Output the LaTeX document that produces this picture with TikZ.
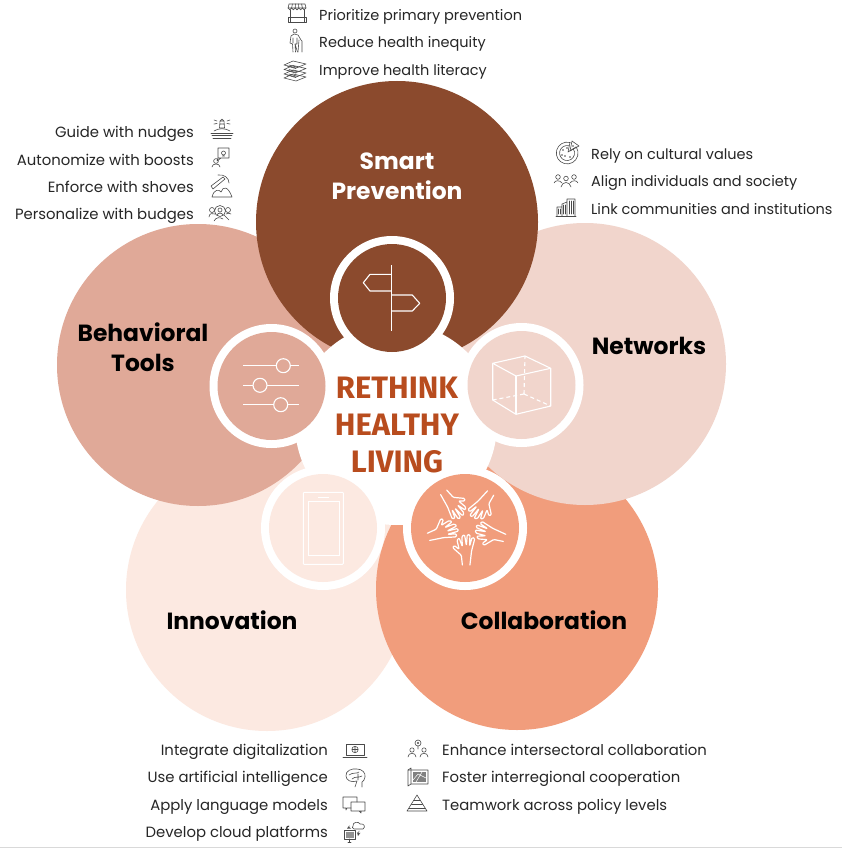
\documentclass[tikz,border=0pt]{standalone}
\usepackage{fontspec}
\setmainfont{Poppins}
\newfontfamily\headfont{Fira Sans}
\usetikzlibrary{calc}
\definecolor{cSmart}{HTML}{8B4A2D}
\definecolor{cBeh}{HTML}{E0A998}
\definecolor{cNet}{HTML}{F1D5CC}
\definecolor{cCol}{HTML}{F19D7C}
\definecolor{cInn}{HTML}{FCE9E1}
\definecolor{cHead}{HTML}{B84C1E}
\definecolor{cIcon}{HTML}{4A4A4A}
\definecolor{cItem}{HTML}{262626}
\tikzset{
  x=1pt,y=-1pt,
  big/.style={circle,inner sep=0pt,minimum size=282pt},
  ring/.style={circle,fill=white,inner sep=0pt,minimum size=124pt},
  disc/.style={circle,inner sep=0pt,minimum size=108pt},
  item/.style={font=\fontsize{14.5}{14.5}\selectfont,text=cItem,inner sep=0pt},
  itemW/.style={font=\fontsize{14.85}{14.85}\selectfont,text=cItem,inner sep=0pt},
  itemL/.style={item,anchor=base west},
  itemR/.style={itemW,anchor=base east},
  itemE/.style={itemW,anchor=base west},
  title/.style={font=\fontsize{23.4}{30}\selectfont\bfseries,align=center,inner sep=0pt,text=black},
  head/.style={font=\headfont\fontsize{31}{37}\selectfont\bfseries,align=center,inner sep=0pt,text=cHead},
  ico/.style={draw=cIcon,line width=.6pt,line join=round,line cap=round},
  wl/.style={draw=white,line width=1.1pt,line join=round},
}
\begin{document}
\begin{tikzpicture}
\useasboundingbox (0,0) rectangle (842,848);
\fill[white] (0,0) rectangle (842,848);
\draw[black!15,line width=1pt] (0,847.5) -- (842,847.5);
% big circles
\node[big,fill=cInn] (inn) at (267,590) {};
\node[big,fill=cCol] (col) at (517,589) {};
\node[big,fill=cNet] (net) at (585,364) {};
\node[big,fill=cBeh] (beh) at (198,365) {};
\node[big,fill=cSmart] (sma) at (397,222) {};
\node[circle,fill=white,inner sep=0pt,minimum size=202pt] (hub) at (396,424) {};
% rings and discs
\node[ring] (rSma) at (392,298) {}; \node[disc,fill=cSmart] (dSma) at (392,298) {};
\node[ring] (rBeh) at (271.5,386) {}; \node[disc,fill=cBeh] (dBeh) at (271.5,386) {};
\node[ring] (rNet) at (521.5,385) {}; \node[disc,fill=cNet] (dNet) at (521.5,385) {};
\node[ring] (rCol) at (465,528) {}; \node[disc,fill=cCol] (dCol) at (465,528) {};
\node[ring] (rInn) at (323,528) {}; \node[disc,fill=cInn] (dInn) at (323,528) {};
% sign
\draw[wl] (391.3,265) -- (391.3,330.7);
\draw[wl] (391.3,274.3) -- (370,274.3) -- (363.3,282.7) -- (370,291) -- (391.3,291);
\draw[wl] (391.3,295) -- (412.3,295) -- (419.7,303.3) -- (412.3,311) -- (391.3,311);
% sliders
\foreach \yy/\xx in {365.7/283.3,385.3/260,404.7/280.7}{
  \draw[wl] (243.3,\yy) -- (299.3,\yy);
  \draw[wl,fill=cBeh] (\xx,\yy) circle (7);
}
% cube
\draw[wl] (492.7,363.3) -- (525,356) -- (550.7,368.3) -- (516,376) -- cycle;
\draw[wl] (492.7,363.3) -- (492.7,400) -- (516,414.3) -- (550.7,406) -- (550.7,368.3);
\draw[wl] (516,376) -- (516,414.3);
\draw[wl,dash pattern=on 4pt off 3pt] (524,394) -- (525,356) (524,394) -- (492.7,400) (524,394) -- (550.7,406);
% phone
\draw[white,line width=.9pt,rounded corners=.8pt] (303.3,492.3) rectangle (343.3,564.3);
\draw[white,line width=.9pt] (308.3,501.7) rectangle (339.3,555);
\draw[white,line width=.9pt] (318,497) -- (329,497);
% hands
\foreach \a in {0,72,144,216,288}{
 \begin{scope}[shift={(466.7,525)},rotate=\a,scale=1.08]
  \draw[wl,line width=1.2pt,line cap=round,rounded corners=1pt]
   (-4,37) -- (-5,28) -- (-13,21) -- (-11.5,19) -- (-7,22.5) -- (-9,14) -- (-7,12) -- (-4,20)
   -- (-4.5,10.5) -- (-2,9) -- (-.3,19) -- (.5,9) -- (3,9) -- (2.7,19.5) -- (5,11.5) -- (7.5,12.5) -- (4.5,24) -- (3,37);
 \end{scope}
}
% titles
\node[title,text=white] (tSma) at (397,176) {Smart\\Prevention};
\node[title] (tBeh) at (143,347) {Behavioral\\Tools};
\node[title] (tNet) at (649,346) {Networks};
\node[title] (tInn) at (232,620) {Innovation};
\node[title] (tCol) at (544,620) {Collaboration};
\node[head] (tHub) at (397,425) {RETHINK\\HEALTHY\\LIVING};
% item lists
\node[itemL] (a1) at (319,21) {Prioritize primary prevention};
\node[itemL] (a2) at (319,48) {Reduce health inequity};
\node[itemL] (a3) at (319,76) {Improve health literacy};
\node[itemR] (b1) at (194,138) {Guide with nudges};
\node[itemR] (b2) at (194,165) {Autonomize with boosts};
\node[itemR] (b3) at (194,192) {Enforce with shoves};
\node[itemR] (b4) at (194,219) {Personalize with budges};
\node[itemL] (c1) at (591,159) {Rely on cultural values};
\node[itemL] (c2) at (591,186) {Align individuals and society};
\node[itemL] (c3) at (591,214) {Link communities and institutions};
\node[itemR] (d1) at (328,755) {Integrate digitalization};
\node[itemR] (d2) at (328,782) {Use artificial intelligence};
\node[itemR] (d3) at (328,810) {Apply language models};
\node[itemR] (d4) at (328,837) {Develop cloud platforms};
\node[itemE] (e1) at (442,755) {Enhance intersectoral collaboration};
\node[itemE] (e2) at (442,782) {Foster interregional cooperation};
\node[itemE] (e3) at (442,810) {Teamwork across policy levels};
% icons
\begin{scope}[shift={(297,13)},ico]
 \draw (-9,-5) -- (-8,-9) -- (8,-9) -- (9,-5) (-9,-5) -- (9,-5);
 \foreach \x in {-9,-5.4,-1.8,1.8,5.4}{\draw (\x,-5) .. controls (\x,-2.5) and (\x+3.6,-2.5) .. (\x+3.6,-5);}
 \foreach \x in {-5.4,-1.8,1.8,5.4}{\draw (\x*.85,-9) -- (\x,-5);}
 \draw (-7,-3) -- (-7,9) (7,-3) -- (7,9) (-9,4) -- (9,4) -- (9,9) -- (-9,9) -- cycle;
\end{scope}
\begin{scope}[shift={(296,41)},ico]
 \draw (-1,-10) circle (2);
 \draw (-3,11) -- (-3.5,3) -- (-6,2) -- (-5,-5) -- (-2,-7) -- (2,-6) -- (5,-1) -- (6,0) -- (6,11);
 \draw (-.5,11) -- (-1,3) -- (1.5,11) (1,-3) -- (1,3) -- (-1,3);
 \draw (-3,-3) -- (-3,2) (3,-1) -- (2,11);
\end{scope}
\begin{scope}[shift={(295,70)},ico]
 \foreach \d in {-5,-.5,4,8}{\draw (-11,\d) -- (-2,\d-4) -- (11,\d-1) -- (1,\d+3) -- cycle;}
 \foreach \d in {-5,-.5,4}{\draw (-8,\d+1) -- (1,\d+3.6) (-6,\d) -- (3,\d+2.4);}
\end{scope}
\begin{scope}[shift={(222,130)},ico]
 \draw (-2.5,-2) -- (-2,-9) -- (2,-9) -- (2.5,-2) -- cycle (-2,-6) -- (2,-6) (-2,-9) -- (0,-11) -- (2,-9);
 \draw (-5,-9) -- (-8,-10) (-5,-6.5) -- (-8,-6) (5,-9) -- (8,-10) (5,-6.5) -- (8,-6);
 \draw (-8,1) .. controls (-4,-2) and (4,-2) .. (8,1);
 \draw (-11,3) -- (11,3) (-10,5.5) -- (10,5.5) (-9,8) -- (9,8);
\end{scope}
\begin{scope}[shift={(221,157)},ico]
 \draw (-3,-9) rectangle (8,1) (-3,1) -- (-4,4) -- (0,1);
 \draw (2.5,-4) circle (2) (1.5,-1) -- (3.5,-1);
 \draw (-5,4) circle (2.4);
 \draw (-9,10) .. controls (-9,6) and (-1,6) .. (-1,10);
\end{scope}
\begin{scope}[shift={(221,186)},ico]
 \draw (-10,0) -- (2,-9) -- (4,-7) -- (-8,3) -- cycle;
 \draw (-3,-11) .. controls (3,-12) and (8,-8) .. (8,-3);
 \draw (-9,11) .. controls (-7,3) and (-2,3) .. (0,6) .. controls (2,0) and (7,0) .. (11,11) -- cycle;
\end{scope}
\begin{scope}[shift={(220,213)},ico]
 \draw (0,-2) circle (5.5) (0,-3) circle (2) (-3,2) .. controls (-2,-.5) and (2,-.5) .. (3,2);
 \draw (4,2) -- (9,7);
 \draw (-8,-3) circle (2.5) (8,-3) circle (2.5);
 \draw (-11,4) .. controls (-11,0) and (-7,0) .. (-5,1) (11,1) .. controls (10,0) and (8,0) .. (6,1);
 \draw (-6,8) .. controls (-4,4) and (0,4) .. (3,6);
\end{scope}
\begin{scope}[shift={(567,153)},ico]
 \draw (3,-10.5) arc (-75:-395:10.9);
 \draw (2,-7.2) arc (-75:-395:7.5);
 \draw (3,-10.5) -- (1,-1) -- (9,-6);
 \draw (5,-12) -- (12,-7) -- (3,-2) -- cycle;
 \foreach \p in {(-4,-3),(-2,3),(3,4),(-5,2),(0,-5),(6,-7)}{\fill[cIcon] \p circle (.8);}
\end{scope}
\begin{scope}[shift={(566,182)},ico]
 \draw (-8,-5) circle (2.3) (0,-3.5) circle (2.3) (8,-5) circle (2.3);
 \draw (-12,1) .. controls (-11,-2) and (-6,-2) .. (-4,1);
 \draw (4,1) .. controls (6,-2) and (11,-2) .. (12,1);
 \draw (-5,5) .. controls (-4,-1) and (4,-1) .. (5,5);
\end{scope}
\begin{scope}[shift={(566,207)},ico]
 \draw (-10,9) -- (10,9);
 \draw (-9,9) -- (-9,0) -- (-4,0) -- (-4,9) (-4,-3) -- (1,-5) -- (1,9) (-4,0) -- (-4,-3) (1,-8) -- (9,-8) -- (9,9) (1,-8) -- (1,-5);
 \foreach \x in {3,5,7}{\draw (\x,-6) -- (\x,7);}
 \foreach \x in {-7.5,-5.5}{\draw (\x,2) -- (\x,7);}
 \foreach \x in {-2.5,-.5}{\draw (\x,-2) -- (\x,7);}
\end{scope}
\begin{scope}[shift={(355,750)},ico]
 \draw (-9,-6) rectangle (9,5);
 \draw (-12,7) -- (12,7);
 \draw (0,-.5) circle (3.2) (-3.2,-.5) -- (3.2,-.5) (0,-3.7) -- (0,2.7);
\end{scope}
\begin{scope}[shift={(356,777)},ico]
 \draw (-1,10) -- (1,4) .. controls (-5,6) and (-10,3) .. (-10,-1) .. controls (-11,-6) and (-4,-9) .. (1,-8) .. controls (6,-8) and (10,-4) .. (9,0) .. controls (9,3) and (7,4) .. (6,5) -- (6,10);
 \draw (-7,-2) .. controls (-3,-5) and (1,-3) .. (3,-5) (-4,2) .. controls (-1,-1) and (3,1) .. (6,-1) (2,-3) -- (2,3);
\end{scope}
\begin{scope}[shift={(354,805)},ico]
 \draw (-3,3) -- (-7,3) -- (-8,5) -- (-8,3) -- (-11,3) -- (-11,-8) -- (3,-8) -- (3,-3);
 \draw (-3,-3) rectangle (11,6) (5,6) -- (7,8) -- (7,6);
\end{scope}
\begin{scope}[shift={(355,833)},ico]
 \draw (-11,-3) rectangle (0,6) (-7,9) -- (-4,9) (-5.5,6) -- (-5.5,9);
 \fill[cIcon!60] (-9.5,-1.5) rectangle (-1.5,4.5);
 \draw (-2,-7) .. controls (-3,-11) and (4,-12) .. (5,-9) .. controls (9,-10) and (11,-6) .. (8,-4) -- (-1,-4) .. controls (-3,-4) and (-3,-7) .. (-2,-7);
 \draw[->,>=stealth] (-5,-6) -- (-8,-4.5);
 \draw[->,>=stealth] (4,-2) -- (3,3);
\end{scope}
\begin{scope}[shift={(418,750)},ico]
 \draw (0,-7) circle (3) (0,-7) circle (.8) (0,-4) -- (0,-1);
 \draw (-6,0) circle (2.2) (6,0) circle (2.2);
 \draw (-10,7) .. controls (-10,2) and (-2,2) .. (-2,7) (2,7) .. controls (2,2) and (10,2) .. (10,7);
\end{scope}
\begin{scope}[shift={(418,777)},ico]
 \draw (-10,-7) -- (10,-7) -- (10,7) -- (-7,7) -- (-10,9) -- cycle;
 \draw (-7,-9) -- (-7,7) (-10,-7) -- (-7,-9);
 \fill[cIcon!70] (-5,-5) rectangle (8,5);
 \draw[white,line width=.5pt] (-5,3) -- (0,-3) -- (8,1) (-2,5) -- (4,-5);
\end{scope}
\begin{scope}[shift={(417,803)},ico]
 \draw (0,-8) -- (-10,8) -- (10,8) -- cycle;
 \draw (-3,-3) -- (3,-3) (-5.5,1) -- (5.5,1) (-8,5) -- (8,5);
\end{scope}
\end{tikzpicture}
\end{document}
